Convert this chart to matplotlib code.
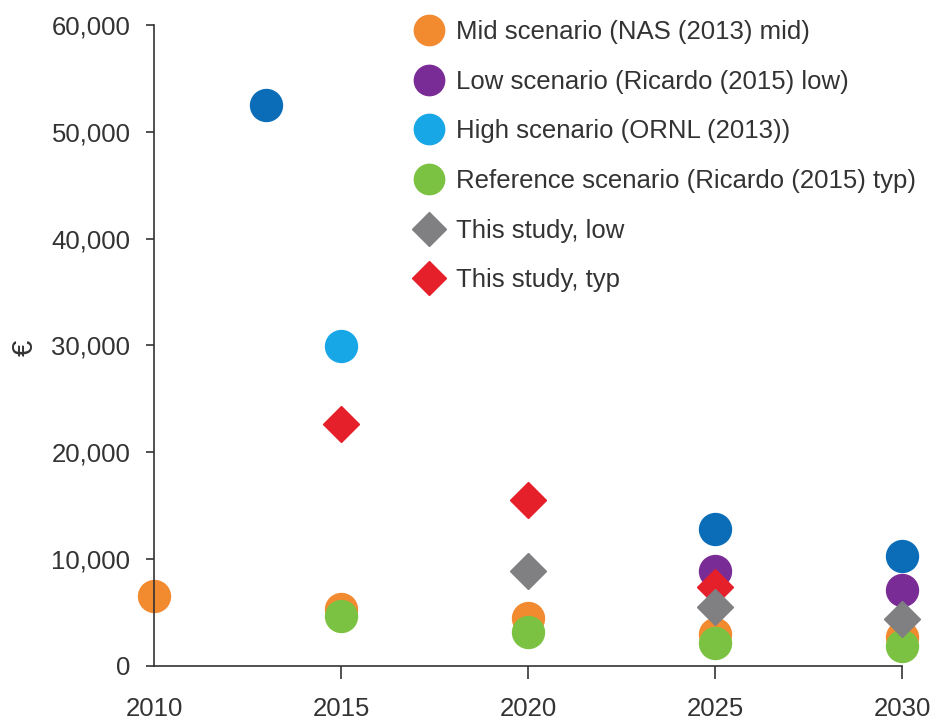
import matplotlib
matplotlib.use("Agg")
import matplotlib.pyplot as plt

plt.rcParams['font.family'] = ['Liberation Sans', 'DejaVu Sans']

# Data
years_other = [2013, 2025, 2030]
vals_other = [52500, 12800, 10300]

years_mid = [2010, 2015, 2020, 2025, 2030]
vals_mid = [6500, 5300, 4500, 3000, 2700]

years_low = [2025, 2030]
vals_low = [8900, 7100]

years_high = [2015]
vals_high = [29900]

years_ref = [2015, 2020, 2025, 2030]
vals_ref = [4700, 3200, 2100, 1800]

years_study_low = [2020, 2025, 2030]
vals_study_low = [8900, 5500, 4350]

years_study_typ = [2015, 2020, 2025]
vals_study_typ = [22600, 15500, 7400]

labels = ["Mid scenario (NAS (2013) mid)",
          "Low scenario (Ricardo (2015) low)",
          "High scenario (ORNL (2013))",
          "Reference scenario (Ricardo (2015) typ)",
          "This study, low",
          "This study, typ"]

c_other = "#0B6DB7"
c_mid = "#F28A30"
c_low = "#7A2C96"
c_high = "#18A7E6"
c_ref = "#7CC242"
c_slow = "#808083"
c_styp = "#E6202A"

fig = plt.figure(figsize=(9.37, 7.21), dpi=100)
ax = fig.add_axes([0.1644, 0.0767, 0.9627 - 0.1644, 0.9653 - 0.0767])

ms_c = 23
ms_d = 18.5
kw = dict(linestyle='none', clip_on=False)

ax.plot(years_other, vals_other, 'o', color=c_other, ms=ms_c, label='_nolegend_', **kw)
h_low, = ax.plot(years_low, vals_low, 'o', color=c_low, ms=ms_c, label=labels[1], **kw)
h_high, = ax.plot(years_high, vals_high, 'o', color=c_high, ms=ms_c, label=labels[2], **kw)
h_mid, = ax.plot(years_mid, vals_mid, 'o', color=c_mid, ms=ms_c, label=labels[0], **kw)
h_ref, = ax.plot(years_ref, vals_ref, 'o', color=c_ref, ms=ms_c, label=labels[3], **kw)
h_styp, = ax.plot(years_study_typ, vals_study_typ, 'D', color=c_styp, ms=ms_d, label=labels[5], **kw)
h_slow, = ax.plot(years_study_low, vals_study_low, 'D', color=c_slow, ms=ms_d, label=labels[4], **kw)

ax.set_xlim(2010, 2030)
ax.set_ylim(0, 60000)
ax.set_xticks([2015, 2020, 2025, 2030])
ax.set_xticks([2010], minor=True)
ax.set_xticklabels(["2015", "2020", "2025", "2030"])
ax.set_xticklabels(["2010"], minor=True)
ax.set_yticks(range(0, 60001, 10000))
ax.set_yticklabels([f"{v:,}" for v in range(0, 60001, 10000)])

text_color = "#333333"
fs = 18.5
for s in ['top', 'right']:
    ax.spines[s].set_visible(False)
for s in ['left', 'bottom']:
    ax.spines[s].set_color("#333333")
    ax.spines[s].set_linewidth(1.2)
ax.tick_params(axis='both', which='both', colors="#333333", labelcolor=text_color,
               labelsize=fs, width=1.2, direction='out')
ax.tick_params(axis='x', which='major', length=9, pad=13.5)
ax.tick_params(axis='x', which='minor', length=0, pad=13.5 + 9)
ax.tick_params(axis='y', length=6, pad=11)

fig.text(25 / 937, 1 - 348 / 721, "€", rotation=90, fontsize=21, color=text_color,
         ha='center', va='center')

leg = fig.legend(handles=[h_mid, h_low, h_high, h_ref, h_slow, h_styp],
                 labels=labels, loc='upper left', bbox_to_anchor=(416 / 937, 1 - 20 / 721),
                 frameon=False, fontsize=fs, labelspacing=1.0, handletextpad=0.55,
                 handlelength=1.0, markerscale=0.95, numpoints=1, borderaxespad=0,
                 borderpad=0)
for t in leg.get_texts():
    t.set_color(text_color)

fig.savefig("out.png", dpi=100)
